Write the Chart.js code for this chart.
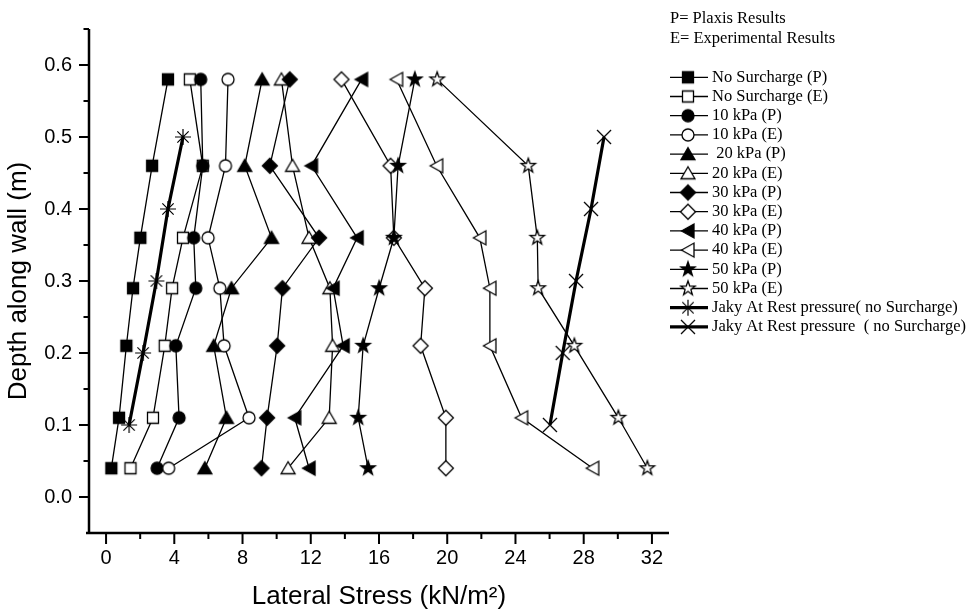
<!DOCTYPE html>
<html><head><meta charset="utf-8">
<script src="https://cdn.jsdelivr.net/npm/chart.js@4.4.0/dist/chart.umd.min.js"></script>
<style>html,body{margin:0;padding:0;background:#fff;}canvas{display:block;}</style>
</head><body>
<canvas id="c" width="972" height="612"></canvas>
<script>
// ---- data ----
const depthRows = [0.58, 0.46, 0.36, 0.29, 0.21, 0.11, 0.04];
const jakyDepths = [0.5, 0.4, 0.3, 0.2, 0.1];

const noSurchargeP = [3.63, 2.70, 2.01, 1.58, 1.19, 0.76, 0.31];
const noSurchargeE = [4.91, 5.67, 4.51, 3.87, 3.44, 2.75, 1.43];
const kpa10P = [5.55, 5.67, 5.14, 5.26, 4.09, 4.28, 2.99];
const kpa10E = [7.15, 7.00, 5.98, 6.67, 6.92, 8.38, 3.67];
const kpa20P = [9.15, 8.13, 9.70, 7.35, 6.31, 7.06, 5.79];
const kpa20E = [10.28, 10.93, 11.90, 13.12, 13.28, 13.08, 10.67];
const kpa30P = [10.77, 9.60, 12.49, 10.34, 10.03, 9.44, 9.11];
const kpa30E = [13.80, 16.68, 16.87, 18.69, 18.44, 19.92, 19.92];
const kpa40P = [14.98, 12.04, 14.72, 13.31, 13.90, 11.06, 11.90];
const kpa40E = [17.03, 19.38, 21.91, 22.50, 22.50, 24.36, 28.53];
const kpa50P = [18.10, 17.12, 16.87, 16.01, 15.07, 14.78, 15.36];
const kpa50E = [19.41, 24.75, 25.28, 25.33, 27.45, 30.03, 31.73];
const jakyNoSurcharge = [4.51, 3.63, 2.95, 2.17, 1.35];
const jakySurcharge = [29.19, 28.43, 27.55, 26.77, 26.02];

const seriesLabels = [
  'No Surcharge (P)', 'No Surcharge (E)', '10 kPa (P)', '10 kPa (E)',
  ' 20 kPa (P)', '20 kPa (E)', '30 kPa (P)', '30 kPa (E)',
  '40 kPa (P)', '40 kPa (E)', '50 kPa (P)', '50 kPa (E)',
  'Jaky At Rest pressure( no Surcharge)', 'Jaky At Rest pressure  ( no Surcharge)'
];
const headerLines = ['P= Plaxis Results', 'E= Experimental Results'];

const xTicks = [0, 4, 8, 12, 16, 20, 24, 28, 32];
const xMinorTicks = [2, 6, 10, 14, 18, 22, 26, 30];
const yTicks = [0, 0.1, 0.2, 0.3, 0.4, 0.5, 0.6];
const yMinorTicks = [0.05, 0.15, 0.25, 0.35, 0.45, 0.55, 0.65];

// ---- marker images ----
function makeMarker(shape, filled) {
  const S = 24, m = S / 2;
  const c = document.createElement('canvas');
  c.width = S; c.height = S;
  const g = c.getContext('2d');
  g.lineWidth = 1.3; g.strokeStyle = '#000'; g.fillStyle = filled ? '#000' : '#fff';
  g.lineJoin = 'miter';
  g.beginPath();
  let fill = true;
  if (shape === 'square') g.rect(m - 5.5, m - 5.5, 11, 11);
  else if (shape === 'circle') g.arc(m, m, 6, 0, Math.PI * 2);
  else if (shape === 'triUp') { g.moveTo(m, m - 6.5); g.lineTo(m + 7, m + 5.5); g.lineTo(m - 7, m + 5.5); g.closePath(); }
  else if (shape === 'diamond') { g.moveTo(m, m - 7.5); g.lineTo(m + 7.5, m); g.lineTo(m, m + 7.5); g.lineTo(m - 7.5, m); g.closePath(); }
  else if (shape === 'triLeft') { g.moveTo(m - 6.5, m); g.lineTo(m + 6, m - 7); g.lineTo(m + 6, m + 7); g.closePath(); }
  else if (shape === 'star') {
    for (let k = 0; k < 10; k++) {
      const r = k % 2 ? 3.0 : 7.5;
      const a = -Math.PI / 2 + k * Math.PI / 5;
      const px = m + r * Math.cos(a), py = m + r * Math.sin(a);
      if (k === 0) g.moveTo(px, py); else g.lineTo(px, py);
    }
    g.closePath();
  } else if (shape === 'asterisk') {
    fill = false; g.lineWidth = 1.2;
    for (let k = 0; k < 4; k++) {
      const a = k * Math.PI / 4;
      g.moveTo(m - 8 * Math.cos(a), m - 8 * Math.sin(a));
      g.lineTo(m + 8 * Math.cos(a), m + 8 * Math.sin(a));
    }
  } else if (shape === 'cross') {
    fill = false; g.lineWidth = 1.3;
    g.moveTo(m - 7, m - 7); g.lineTo(m + 7, m + 7);
    g.moveTo(m + 7, m - 7); g.lineTo(m - 7, m + 7);
  }
  if (fill) g.fill();
  g.stroke();
  return c;
}

const markerSpecs = [
  ['square', true], ['square', false], ['circle', true], ['circle', false],
  ['triUp', true], ['triUp', false], ['diamond', true], ['diamond', false],
  ['triLeft', true], ['triLeft', false], ['star', true], ['star', false],
  ['asterisk', true], ['cross', true]
];
const markers = markerSpecs.map(s => makeMarker(s[0], s[1]));

const seriesValues = [noSurchargeP, noSurchargeE, kpa10P, kpa10E, kpa20P, kpa20E,
  kpa30P, kpa30E, kpa40P, kpa40E, kpa50P, kpa50E, jakyNoSurcharge, jakySurcharge];
const seriesDepths = seriesValues.map((v, i) => i >= 12 ? jakyDepths : depthRows);
const lineWidths = seriesValues.map((v, i) => i >= 12 ? 3.2 : 1.3);

const datasets = seriesValues.map((vals, i) => ({
  label: seriesLabels[i],
  data: vals.map((v, k) => ({ x: v, y: seriesDepths[i][k] })),
  showLine: true,
  borderColor: '#000',
  backgroundColor: '#000',
  borderWidth: lineWidths[i],
  pointStyle: markers[i],
  pointRadius: 6,
  pointHoverRadius: 6,
  tension: 0,
  fill: false,
  order: -i
}));

const FONT = "'Liberation Sans', Arial, sans-serif";
const SERIF = "'Liberation Serif', 'Times New Roman', serif";

const decorPlugin = {
  id: 'decor',
  afterDraw(chart) {
    const ctx = chart.ctx, a = chart.chartArea;
    const xs = chart.scales.x, ys = chart.scales.y;
    ctx.save();
    ctx.strokeStyle = '#000';
    ctx.lineWidth = 2.5;
    ctx.beginPath();
    ctx.moveTo(a.left, a.top); ctx.lineTo(a.left, a.bottom + 1.2);
    ctx.moveTo(a.left - 3, a.bottom); ctx.lineTo(a.right, a.bottom);
    ctx.stroke();
    ctx.lineWidth = 2;
    ctx.beginPath();
    yTicks.forEach(v => { const p = ys.getPixelForValue(v); ctx.moveTo(a.left - 10, p); ctx.lineTo(a.left, p); });
    yMinorTicks.forEach(v => { const p = ys.getPixelForValue(v); ctx.moveTo(a.left - 5.5, p); ctx.lineTo(a.left, p); });
    xTicks.forEach(v => { const p = xs.getPixelForValue(v); ctx.moveTo(p, a.bottom); ctx.lineTo(p, a.bottom + 11); });
    xMinorTicks.forEach(v => { const p = xs.getPixelForValue(v); ctx.moveTo(p, a.bottom); ctx.lineTo(p, a.bottom + 6); });
    ctx.stroke();

    // legend
    ctx.fillStyle = '#000';
    ctx.font = '16.5px ' + SERIF;
    ctx.textBaseline = 'middle';
    ctx.textAlign = 'left';
    ctx.fillText(headerLines[0], 670, 19);
    ctx.fillText(headerLines[1], 670, 39);
    const x0 = 670, x1 = 708, xm = 688, xt = 712;
    chart.data.datasets.forEach((ds, i) => {
      const y = 77.3 + 19.2 * i;
      ctx.lineWidth = ds.borderWidth;
      ctx.beginPath(); ctx.moveTo(x0, y); ctx.lineTo(x1, y); ctx.stroke();
      const img = ds.pointStyle;
      ctx.drawImage(img, xm - img.width / 2, y - img.height / 2);
      ctx.fillText(ds.label, xt, y);
    });
    ctx.restore();
  }
};

new Chart(document.getElementById('c'), {
  type: 'scatter',
  data: { datasets },
  options: {
    responsive: false,
    devicePixelRatio: 1,
    animation: false,
    layout: { padding: { left: 0, right: 303, top: 24, bottom: 0 } },
    plugins: { legend: { display: false }, tooltip: { enabled: false } },
    scales: {
      x: {
        type: 'linear', min: -1, max: 33,
        grid: { display: false, drawTicks: false },
        border: { display: false },
        afterBuildTicks: s => { s.ticks = xTicks.map(v => ({ value: v })); },
        afterFit: s => { s.height = 79; },
        ticks: { color: '#000', font: { family: FONT, size: 20 }, padding: 13, maxRotation: 0, autoSkip: false,
          callback: v => String(v) },
        title: { display: true, text: 'Lateral Stress (kN/m²)', color: '#000',
          font: { family: FONT, size: 26 }, padding: { top: 0, bottom: 0 } }
      },
      y: {
        type: 'linear', min: -0.05, max: 0.65,
        grid: { display: false, drawTicks: false },
        border: { display: false },
        afterBuildTicks: s => { s.ticks = yTicks.map(v => ({ value: v })); },
        afterFit: s => { s.width = 89; },
        ticks: { color: '#000', font: { family: FONT, size: 20 }, padding: 17, autoSkip: false,
          callback: v => v.toFixed(1) },
        title: { display: true, text: 'Depth along wall (m)', color: '#000',
          font: { family: FONT, size: 26 }, padding: { top: 3, bottom: 0 } }
      }
    }
  },
  plugins: [decorPlugin]
});
</script>
</body></html>
